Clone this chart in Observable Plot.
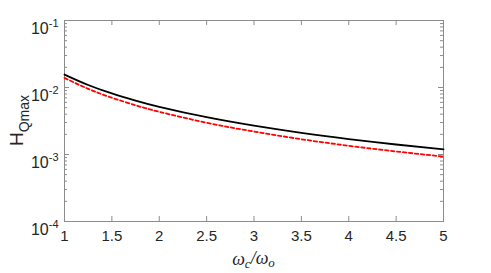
<!DOCTYPE html>
<html>
<head>
<meta charset="utf-8">
<script src="https://cdn.jsdelivr.net/npm/d3@7"></script>
<script src="https://cdn.jsdelivr.net/npm/@observablehq/plot@0.6"></script>
<style>
  html, body { margin: 0; padding: 0; background: #fff; }
  #chart svg { display: block; }
</style>
</head>
<body>
<div id="chart"></div>
<script>
// ---- data ----
const ratio = [1, 1.25, 1.5, 1.75, 2, 2.5, 3, 3.5, 4, 4.5, 5];
const hBlack = [0.0156, 0.0109, 0.00815, 0.00637, 0.00515, 0.0036, 0.00269, 0.0021, 0.0017, 0.00141, 0.00119];
const hRed   = [0.0139, 0.00955, 0.00703, 0.00543, 0.00434, 0.00298, 0.0022, 0.00169, 0.00135, 0.00111, 0.00093];
const xTicks = [1, 1.5, 2, 2.5, 3, 3.5, 4, 4.5, 5];
const xTickLabels = ["1", "1.5", "2", "2.5", "3", "3.5", "4", "4.5", "5"];
const yTicks = [1e-4, 1e-3, 1e-2, 1e-1];
const yTickExponents = ["-4", "-3", "-2", "-1"];

const W = 491, H = 273;
const mL = 64, mR = 48, mT = 20, mB = 52;
const innerW = W - mL - mR, innerH = H - mT - mB;

const blackData = ratio.map((x, i) => ({x, y: hBlack[i]}));
const redData = ratio.map((x, i) => ({x, y: hRed[i]}));

const minorY = [];
for (const d of [1e-4, 1e-3, 1e-2]) for (let k = 2; k <= 9; k++) minorY.push(d * k);

const axisColor = "#8c8c8c";
const majorLen = 5, minorLen = 3;
const sans = "'Liberation Sans', Arial, sans-serif";

const plot = Plot.plot({
  width: W, height: H,
  marginLeft: mL, marginRight: mR, marginTop: mT, marginBottom: mB,
  style: {fontFamily: sans, background: "#fff", color: "#262626"},
  x: {domain: [1, 5]},
  y: {type: "log", domain: [1e-4, 1e-1]},
  marks: [
    Plot.tickX(xTicks, {x: d => d, stroke: axisColor, insetTop: innerH - majorLen}),
    Plot.tickX(xTicks, {x: d => d, stroke: axisColor, insetBottom: innerH - majorLen}),
    Plot.tickY(yTicks, {y: d => d, stroke: axisColor, insetRight: innerW - majorLen}),
    Plot.tickY(yTicks, {y: d => d, stroke: axisColor, insetLeft: innerW - majorLen}),
    Plot.tickY(minorY, {y: d => d, stroke: axisColor, insetRight: innerW - minorLen}),
    Plot.tickY(minorY, {y: d => d, stroke: axisColor, insetLeft: innerW - minorLen}),
    Plot.frame({stroke: axisColor, strokeWidth: 1}),
    Plot.axisX({ticks: xTicks, tickSize: 0, tickPadding: 9, fontSize: 15,
      tickFormat: d => xTickLabels[xTicks.indexOf(d)], label: null}),
    Plot.axisY({ticks: yTicks, tickSize: 0, tickPadding: 6, fontSize: 16,
      tickFormat: d => "10" + yTickExponents[yTicks.indexOf(d)], label: null}),
    Plot.line(redData, {x: "x", y: "y", stroke: "#ff0000", strokeWidth: 1.8,
      strokeDasharray: "3.5,2.5", curve: "natural"}),
    Plot.line(blackData, {x: "x", y: "y", stroke: "#000", strokeWidth: 1.8, curve: "natural"})
  ]
});

document.getElementById("chart").appendChild(plot);

const svg = d3.select(plot);
// superscript exponents for y tick labels
svg.selectAll('g[aria-label="y-axis tick label"] text').each(function() {
  const t = d3.select(this);
  const s = t.text();
  const exp = s.slice(2);
  t.text("10");
  t.attr("dy", "0.55em");
  t.append("tspan").attr("dy", "-0.65em").attr("font-size", 11).text(exp);
});

// y-axis title H_Qmax
const yl = svg.append("text")
  .attr("transform", `translate(23, ${mT + innerH / 2}) rotate(-90)`)
  .attr("text-anchor", "middle")
  .attr("font-family", sans)
  .attr("fill", "#262626")
  .attr("font-size", 19);
yl.append("tspan").text("H");
yl.append("tspan").attr("font-size", 14).attr("dy", "0.45em").text("Qmax");

// x-axis title ωc/ωo
const xl = svg.append("text")
  .attr("x", mL + innerW / 2)
  .attr("y", H - 8)
  .attr("text-anchor", "middle")
  .attr("font-family", "'Liberation Serif', 'DejaVu Serif', serif")
  .attr("font-style", "italic")
  .attr("fill", "#262626")
  .attr("font-size", 18);
xl.append("tspan").text("ω");
xl.append("tspan").attr("font-size", 13).attr("dy", "0.25em").text("c");
xl.append("tspan").attr("dy", "-0.25em").text("/ω");
xl.append("tspan").attr("font-size", 13).attr("dy", "0.25em").text("o");
</script>
</body>
</html>
